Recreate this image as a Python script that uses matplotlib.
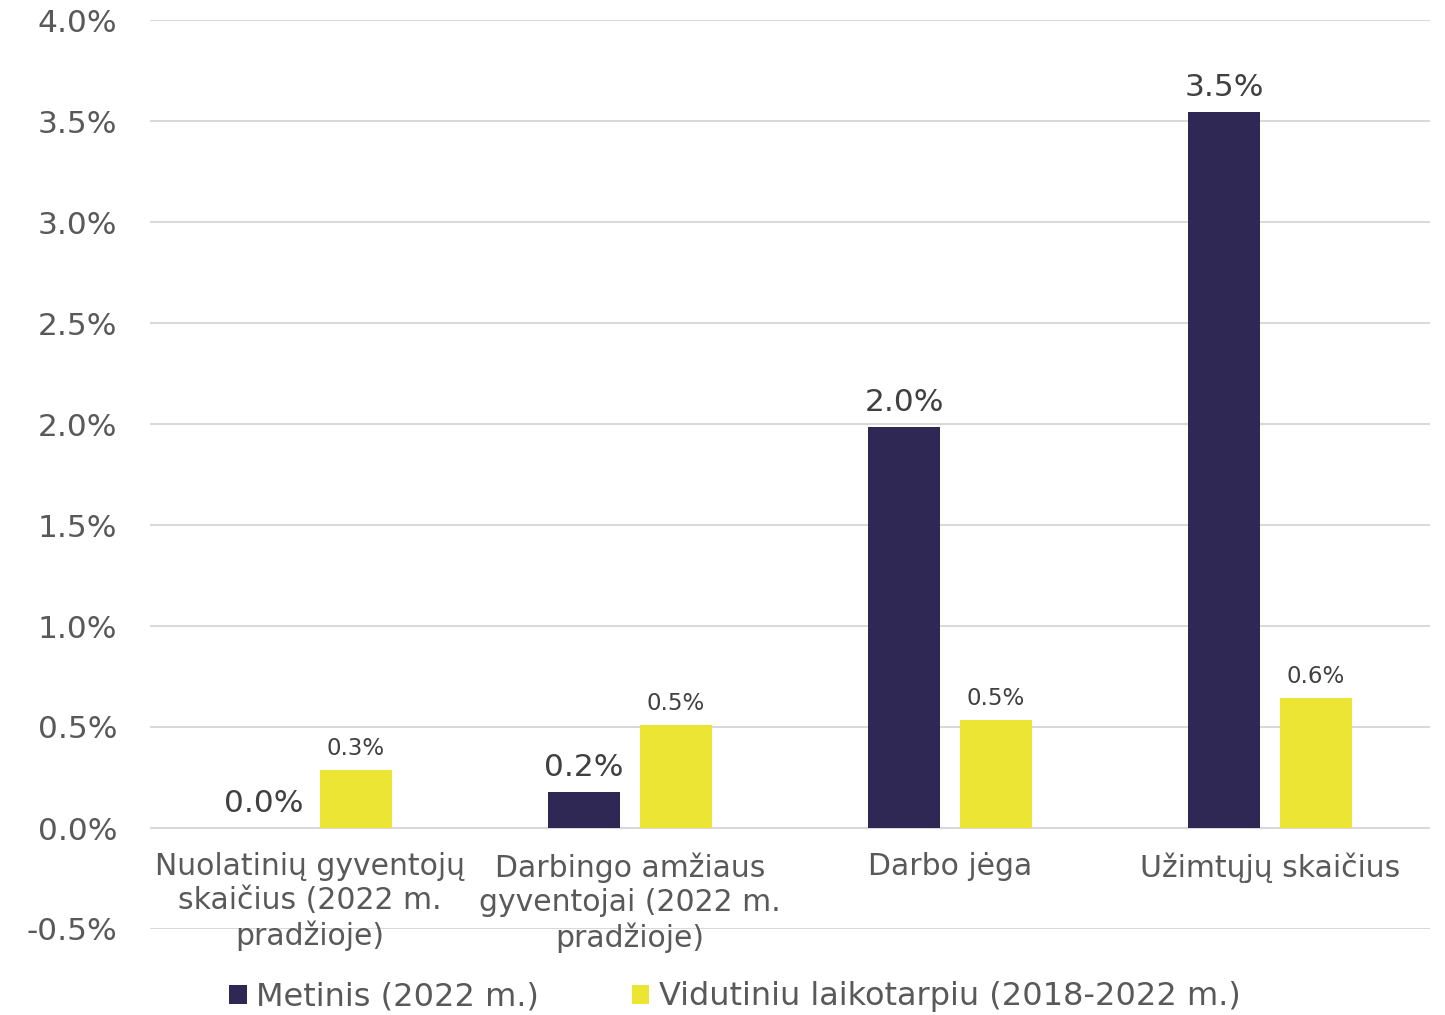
import numpy as np
import matplotlib.pyplot as plt
from matplotlib.ticker import FuncFormatter

categories = ["Nuolatinių gyventojų\nskaičius (2022 m.\npradžioje)",
              "Darbingo amžiaus\ngyventojai (2022 m.\npradžioje)",
              "Darbo jėga",
              "Užimtųjų skaičius"]
metinis = [0.0, 0.178, 1.985, 3.545]
vidutinis = [0.287, 0.51, 0.535, 0.644]
metinis_labels = ["0.0%", "0.2%", "2.0%", "3.5%"]
vidutinis_labels = ["0.3%", "0.5%", "0.5%", "0.6%"]
series_names = ["Metinis (2022 m.)", "Vidutiniu laikotarpiu (2018-2022 m.)"]

dark = "#2F2854"
yellow = "#ECE533"
grey = "#595959"

plt.rcParams['font.family'] = ['DejaVu Sans']

fig = plt.figure(figsize=(14.45, 10.15), dpi=100)
ax = fig.add_axes([150/1445, 1-929/1015, 1280/1445, 909/1015])

x = np.arange(len(categories))
w = 0.225
off = 0.143
ax.bar(x - off, metinis, w, color=dark, label=series_names[0], zorder=3)
ax.bar(x + off, vidutinis, w, color=yellow, label=series_names[1], zorder=3)

for i in range(len(x)):
    ax.text(x[i] - off, metinis[i] + 0.05, metinis_labels[i], ha="center", va="bottom",
            fontsize=22.5, color="#404040")
    ax.text(x[i] + off, vidutinis[i] + 0.05, vidutinis_labels[i], ha="center", va="bottom",
            fontsize=16.5, color="#404040")

ax.set_xlim(-0.5, 3.5)
ax.set_ylim(-0.5, 4.0)
ax.set_yticks(np.arange(-0.5, 4.01, 0.5))
ax.yaxis.set_major_formatter(FuncFormatter(lambda v, p: f"{v:.1f}%"))
ax.grid(axis="y", color="#D9D9D9", lw=1.5, zorder=0)
for s in ax.spines.values():
    s.set_visible(False)
ax.tick_params(axis="y", length=0, labelsize=22.5, labelcolor=grey, pad=23.5)
ax.set_xticks([])

for i, c in enumerate(categories):
    ax.text(x[i], -0.12, c, ha="center", va="top", fontsize=21.5, color=grey,
            linespacing=1.22)

fig.legend(loc="center", bbox_to_anchor=(735/1445, 1-997/1015), ncol=2, frameon=False,
           fontsize=23, labelcolor=grey, handlelength=0.55, handleheight=0.55,
           handletextpad=0.3, columnspacing=2.9)

fig.savefig("out.png", dpi=100)
